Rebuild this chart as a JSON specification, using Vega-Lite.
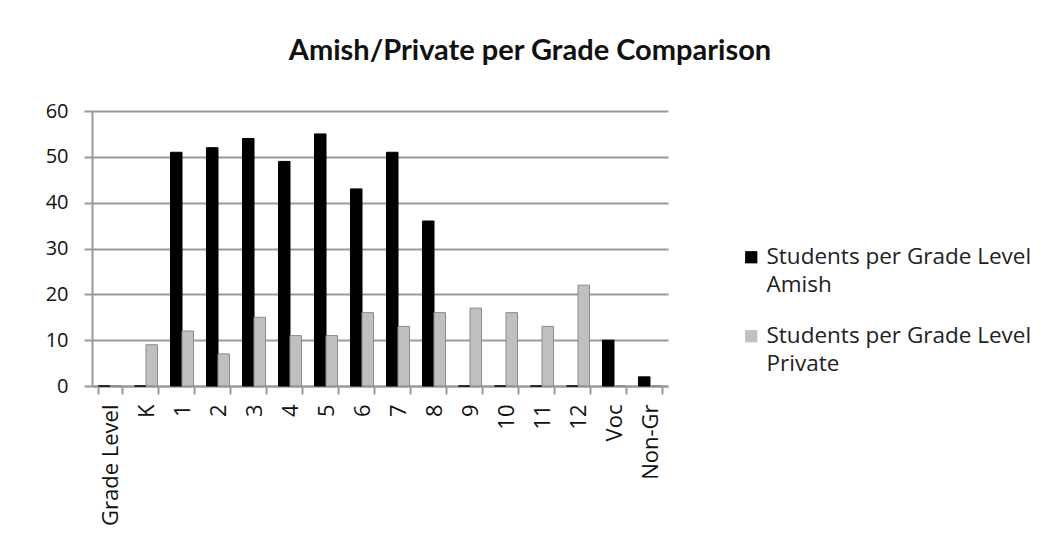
{
  "$schema": "https://vega.github.io/schema/vega-lite/v6.json",
  "autosize": "none",
  "width": 576,
  "height": 275,
  "padding": {"left": 92, "top": 111, "right": 381, "bottom": 163},
  "background": "white",
  "title": {
    "text": "Amish/Private per Grade Comparison",
    "anchor": "middle",
    "frame": "group",
    "dx": 150,
    "offset": 35,
    "font": "Lato",
    "fontSize": 29,
    "fontWeight": "bold",
    "color": "#111"
  },
  "data": {
    "values": [
      {"grade": "Grade Level", "series": "Students per Grade Level Amish", "value": 0},
      {"grade": "Grade Level", "series": "Students per Grade Level Private", "value": 0},
      {"grade": "K", "series": "Students per Grade Level Amish", "value": 0},
      {"grade": "K", "series": "Students per Grade Level Private", "value": 9},
      {"grade": "1", "series": "Students per Grade Level Amish", "value": 51},
      {"grade": "1", "series": "Students per Grade Level Private", "value": 12},
      {"grade": "2", "series": "Students per Grade Level Amish", "value": 52},
      {"grade": "2", "series": "Students per Grade Level Private", "value": 7},
      {"grade": "3", "series": "Students per Grade Level Amish", "value": 54},
      {"grade": "3", "series": "Students per Grade Level Private", "value": 15},
      {"grade": "4", "series": "Students per Grade Level Amish", "value": 49},
      {"grade": "4", "series": "Students per Grade Level Private", "value": 11},
      {"grade": "5", "series": "Students per Grade Level Amish", "value": 55},
      {"grade": "5", "series": "Students per Grade Level Private", "value": 11},
      {"grade": "6", "series": "Students per Grade Level Amish", "value": 43},
      {"grade": "6", "series": "Students per Grade Level Private", "value": 16},
      {"grade": "7", "series": "Students per Grade Level Amish", "value": 51},
      {"grade": "7", "series": "Students per Grade Level Private", "value": 13},
      {"grade": "8", "series": "Students per Grade Level Amish", "value": 36},
      {"grade": "8", "series": "Students per Grade Level Private", "value": 16},
      {"grade": "9", "series": "Students per Grade Level Amish", "value": 0},
      {"grade": "9", "series": "Students per Grade Level Private", "value": 17},
      {"grade": "10", "series": "Students per Grade Level Amish", "value": 0},
      {"grade": "10", "series": "Students per Grade Level Private", "value": 16},
      {"grade": "11", "series": "Students per Grade Level Amish", "value": 0},
      {"grade": "11", "series": "Students per Grade Level Private", "value": 13},
      {"grade": "12", "series": "Students per Grade Level Amish", "value": 0},
      {"grade": "12", "series": "Students per Grade Level Private", "value": 22},
      {"grade": "Voc", "series": "Students per Grade Level Amish", "value": 10},
      {"grade": "Voc", "series": "Students per Grade Level Private", "value": 0},
      {"grade": "Non-Gr", "series": "Students per Grade Level Amish", "value": 2},
      {"grade": "Non-Gr", "series": "Students per Grade Level Private", "value": 0}
    ]
  },
  "mark": {"type": "bar", "strokeWidth": 1},
  "encoding": {
    "x": {
      "field": "grade",
      "type": "nominal",
      "sort": null,
      "title": null,
      "scale": {"paddingInner": 0.36, "paddingOuter": 0.18},
      "axis": {
        "labelAngle": -90,
        "labelAlign": "right",
        "labelBaseline": "middle",
        "labelFont": "Open Sans",
        "labelFontSize": 22,
        "labelColor": "#111",
        "labelPadding": 10,
        "domainColor": "#999",
        "domainWidth": 2,
        "tickColor": "#999",
        "tickWidth": 2,
        "tickSize": 8,
        "tickBand": "extent",
        "grid": false
      }
    },
    "xOffset": {"field": "series", "type": "nominal", "sort": null},
    "y": {
      "field": "value",
      "type": "quantitative",
      "title": null,
      "scale": {"domain": [0, 60]},
      "axis": {
        "values": [0, 10, 20, 30, 40, 50, 60],
        "labelFont": "Open Sans",
        "labelFontSize": 20,
        "labelColor": "#111",
        "labelPadding": 16,
        "domainColor": "#999",
        "domainWidth": 2,
        "tickColor": "#999",
        "tickWidth": 2,
        "tickSize": 8,
        "grid": true,
        "gridColor": "#999",
        "gridWidth": 2
      }
    },
    "color": {
      "field": "series",
      "type": "nominal",
      "sort": null,
      "scale": {"range": ["#000000", "#c0c0c0"]},
      "legend": {
        "title": null,
        "orient": "none",
        "legendX": 648,
        "legendY": 135,
        "symbolType": "square",
        "symbolSize": 150,
        "symbolStrokeWidth": 0,
        "labelFont": "Open Sans",
        "labelFontSize": 22.5,
        "labelColor": "#222",
        "labelLimit": 400,
        "labelOffset": 4,
        "rowPadding": 28,
        "labelExpr": "datum.label == 'Students per Grade Level Amish' ? ['Students per Grade Level', 'Amish'] : ['Students per Grade Level', 'Private']"
      }
    },
    "stroke": {
      "field": "series",
      "type": "nominal",
      "sort": null,
      "scale": {"range": ["#000000", "#8a8a8a"]},
      "legend": null
    }
  },
  "config": {
    "view": {"stroke": null},
    "style": {"guide-label": {"lineHeight": 28}}
  }
}
